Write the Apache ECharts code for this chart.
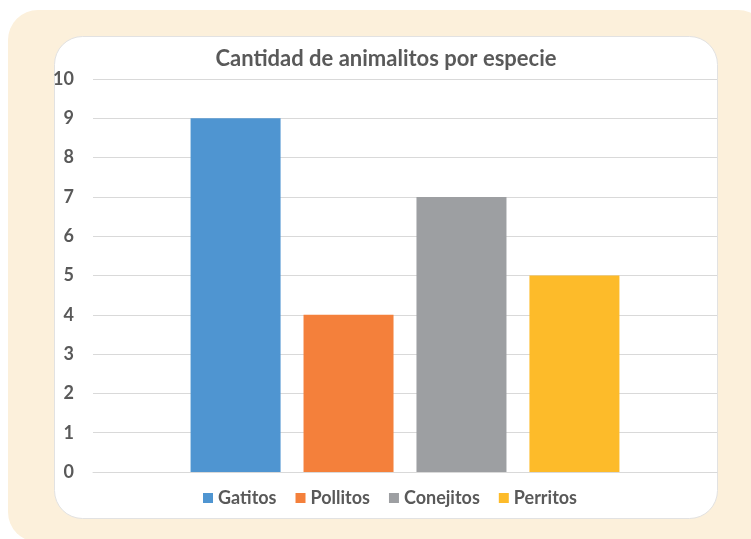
<!DOCTYPE html>
<html>
<head>
<meta charset="utf-8">
<script src="https://cdn.jsdelivr.net/npm/echarts@6/dist/echarts.min.js"></script>
<style>
  html, body { margin: 0; padding: 0; background: #fff; }
  #chart { width: 751px; height: 539px; }
</style>
</head>
<body>
<div id="chart"></div>
<script>
// Animal counts per species
const categories = [''];
const speciesNames = ['Gatitos', 'Pollitos', 'Conejitos', 'Perritos'];
const speciesValues = [9, 4, 7, 5];
const speciesColors = ['#4F95D1', '#F4803B', '#9D9FA2', '#FDBB2A'];
const yTicks = { min: 0, max: 10, interval: 1 };

const FONT = 'Lato, "Open Sans", sans-serif';
const TEXT = '#595959';

const chart = echarts.init(document.getElementById('chart'), null, { renderer: 'canvas' });

const series = speciesNames.map((name, i) => ({
  name: name,
  type: 'bar',
  data: [speciesValues[i]],
  barWidth: 90,
  barGap: '25.5%',
  itemStyle: { color: speciesColors[i] },
  z: 3
}));

chart.setOption({
  backgroundColor: '#ffffff',
  animation: false,
  graphic: {
    elements: [
      {
        type: 'rect',
        z: -100,
        shape: { x: 8, y: 10, width: 760, height: 532, r: 30 },
        style: { fill: '#FCF0DB' }
      },
      {
        type: 'rect',
        z: -90,
        shape: { x: 54.5, y: 36.5, width: 663, height: 482, r: 28 },
        style: { fill: '#ffffff', stroke: '#E2E2E2', lineWidth: 1 }
      }
    ]
  },
  title: {
    text: 'Cantidad de animalitos por especie',
    left: 381,
    textAlign: 'center',
    top: 43,
    textStyle: { fontFamily: FONT, fontSize: 22, fontWeight: 'bold', color: TEXT }
  },
  legend: {
    data: speciesNames,
    left: 198,
    top: 484,
    itemWidth: 10,
    itemHeight: 10,
    itemGap: 19,
    icon: 'rect',
    textStyle: { fontFamily: FONT, fontSize: 18, fontWeight: 'bold', color: TEXT }
  },
  grid: { left: 93, right: 34, top: 79, bottom: 67, containLabel: false },
  xAxis: {
    type: 'category',
    data: categories,
    axisLine: { show: true, lineStyle: { color: '#D9D9D9', width: 1 } },
    axisTick: { show: false },
    axisLabel: { show: false }
  },
  yAxis: {
    type: 'value',
    min: yTicks.min,
    max: yTicks.max,
    interval: yTicks.interval,
    axisLine: { show: false },
    axisTick: { show: false },
    splitLine: { lineStyle: { color: '#D9D9D9', width: 1 } },
    axisLabel: { margin: 19, fontFamily: FONT, fontSize: 18, fontWeight: 'bold', color: TEXT }
  },
  series: series
});
</script>
</body>
</html>
